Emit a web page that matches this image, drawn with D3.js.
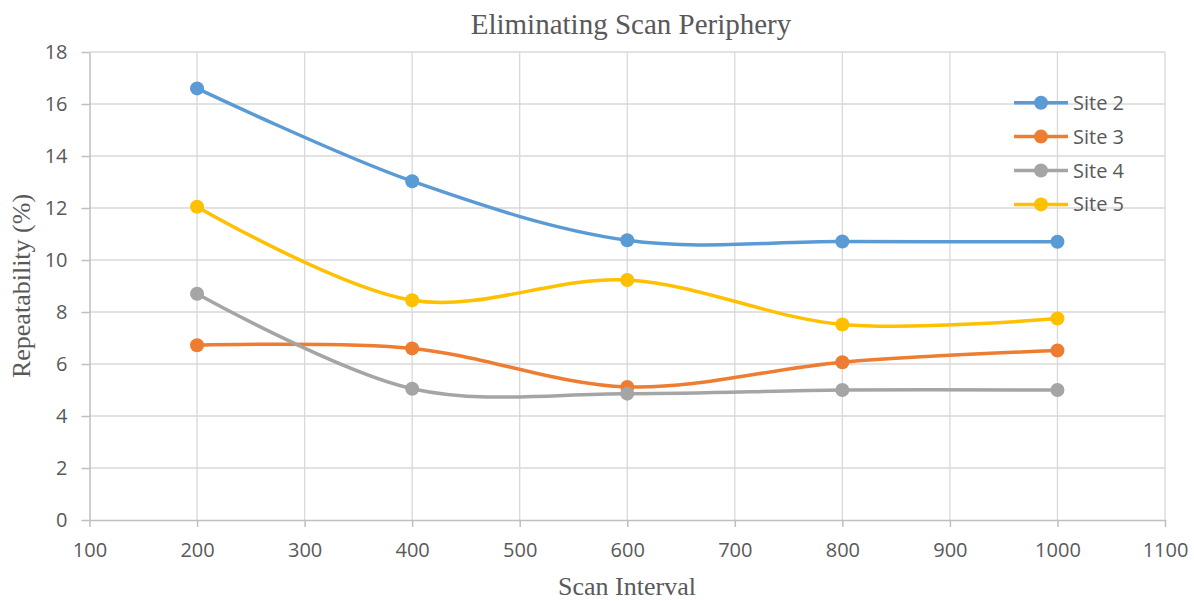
<!DOCTYPE html>
<html>
<head>
<meta charset="utf-8">
<script src="https://cdn.jsdelivr.net/npm/d3@7"></script>
<style>
  body { margin: 0; background: #fff; }
  svg { display: block; }
</style>
</head>
<body>
<div id="chart"></div>
<script>
const intervals = [200, 400, 600, 800, 1000];
const site2 = [16.6, 13.03, 10.76, 10.71, 10.7];
const site3 = [6.72, 6.6, 5.12, 6.07, 6.52];
const site4 = [8.7, 5.05, 4.86, 5.0, 5.0];
const site5 = [12.05, 8.45, 9.23, 7.52, 7.75];
const seriesNames = ["Site 2", "Site 3", "Site 4", "Site 5"];
const seriesColors = ["#5b9bd5", "#ed7d31", "#a5a5a5", "#ffc000"];
const xTicks = [100, 200, 300, 400, 500, 600, 700, 800, 900, 1000, 1100];
const yTicks = [0, 2, 4, 6, 8, 10, 12, 14, 16, 18];

const series = [site2, site3, site4, site5].map((vals, i) => ({
  name: seriesNames[i],
  color: seriesColors[i],
  points: vals.map((v, j) => ({ x: intervals[j], y: v })),
}));

const width = 1194, height = 601;
const margin = { top: 52, right: 29, bottom: 81, left: 89.5 };

const svg = d3.select("#chart").append("svg").attr("width", width).attr("height", height);

const x = d3.scaleLinear().domain([100, 1100]).range([margin.left, width - margin.right]);
const y = d3.scaleLinear().domain([0, 18]).range([height - margin.bottom, margin.top]);

const grid = svg.append("g");
grid.selectAll("line.v")
  .data(xTicks.slice(1))
  .join("line")
  .attr("x1", (d) => x(d)).attr("x2", (d) => x(d))
  .attr("y1", y(0)).attr("y2", y(18))
  .attr("stroke", "#d9d9d9").attr("stroke-width", 1.3);
grid.selectAll("line.h")
  .data(yTicks.slice(1))
  .join("line")
  .attr("x1", x(100)).attr("x2", x(1100))
  .attr("y1", (d) => y(d)).attr("y2", (d) => y(d))
  .attr("stroke", "#d9d9d9").attr("stroke-width", 1.3);

const tickFont = "'Open Sans', sans-serif";
const serif = "'Liberation Serif', 'Times New Roman', serif";

const xAxis = svg.append("g")
  .attr("transform", `translate(0,${y(0)})`)
  .call(d3.axisBottom(x).tickValues(xTicks).tickFormat(d3.format("d"))
    .tickSizeInner(7).tickSizeOuter(0).tickPadding(16));
const yAxis = svg.append("g")
  .attr("transform", `translate(${x(100)},0)`)
  .call(d3.axisLeft(y).tickValues(yTicks).tickFormat(d3.format("d"))
    .tickSizeInner(8).tickSizeOuter(0).tickPadding(14));

[xAxis, yAxis].forEach((g) => {
  g.select(".domain").attr("stroke", "#bfbfbf").attr("stroke-width", 1.5);
  g.selectAll(".tick line").attr("stroke", "#bfbfbf").attr("stroke-width", 1.5);
  g.selectAll(".tick text").attr("fill", "#595959").attr("font-family", tickFont).attr("font-size", 20);
});

const line = d3.line()
  .x((d) => x(d.x))
  .y((d) => y(d.y))
  .curve(d3.curveCatmullRom.alpha(0.5));

const plot = svg.append("g");
series.forEach((s) => {
  plot.append("path")
    .datum(s.points)
    .attr("fill", "none")
    .attr("stroke", s.color)
    .attr("stroke-width", 3.5)
    .attr("stroke-linecap", "round")
    .attr("d", line);
  plot.selectAll(null)
    .data(s.points)
    .join("circle")
    .attr("cx", (d) => x(d.x))
    .attr("cy", (d) => y(d.y))
    .attr("r", 7)
    .attr("fill", s.color);
});

// title and axis labels
svg.append("text")
  .attr("x", 631).attr("y", 34)
  .attr("text-anchor", "middle")
  .attr("font-family", serif)
  .attr("font-size", 29)
  .attr("fill", "#595959")
  .text("Eliminating Scan Periphery");

svg.append("text")
  .attr("x", 627).attr("y", 594.5)
  .attr("text-anchor", "middle")
  .attr("font-family", serif)
  .attr("font-size", 26)
  .attr("fill", "#595959")
  .text("Scan Interval");

svg.append("text")
  .attr("transform", `translate(30,${(y(0) + y(18)) / 2}) rotate(-90)`)
  .attr("text-anchor", "middle")
  .attr("font-family", serif)
  .attr("font-size", 26)
  .attr("fill", "#595959")
  .text("Repeatability (%)");

// legend
const legend = svg.append("g").attr("transform", "translate(1014,102.7)");
const rows = legend.selectAll("g")
  .data(series)
  .join("g")
  .attr("transform", (d, i) => `translate(0,${i * 33.9})`);
rows.append("line")
  .attr("x1", 0).attr("x2", 54)
  .attr("stroke", (d) => d.color).attr("stroke-width", 3.5);
rows.append("circle")
  .attr("cx", 27).attr("r", 7)
  .attr("fill", (d) => d.color);
rows.append("text")
  .attr("x", 59).attr("dy", "0.35em")
  .attr("font-family", tickFont)
  .attr("font-size", 20)
  .attr("fill", "#595959")
  .text((d) => d.name);
</script>
</body>
</html>
